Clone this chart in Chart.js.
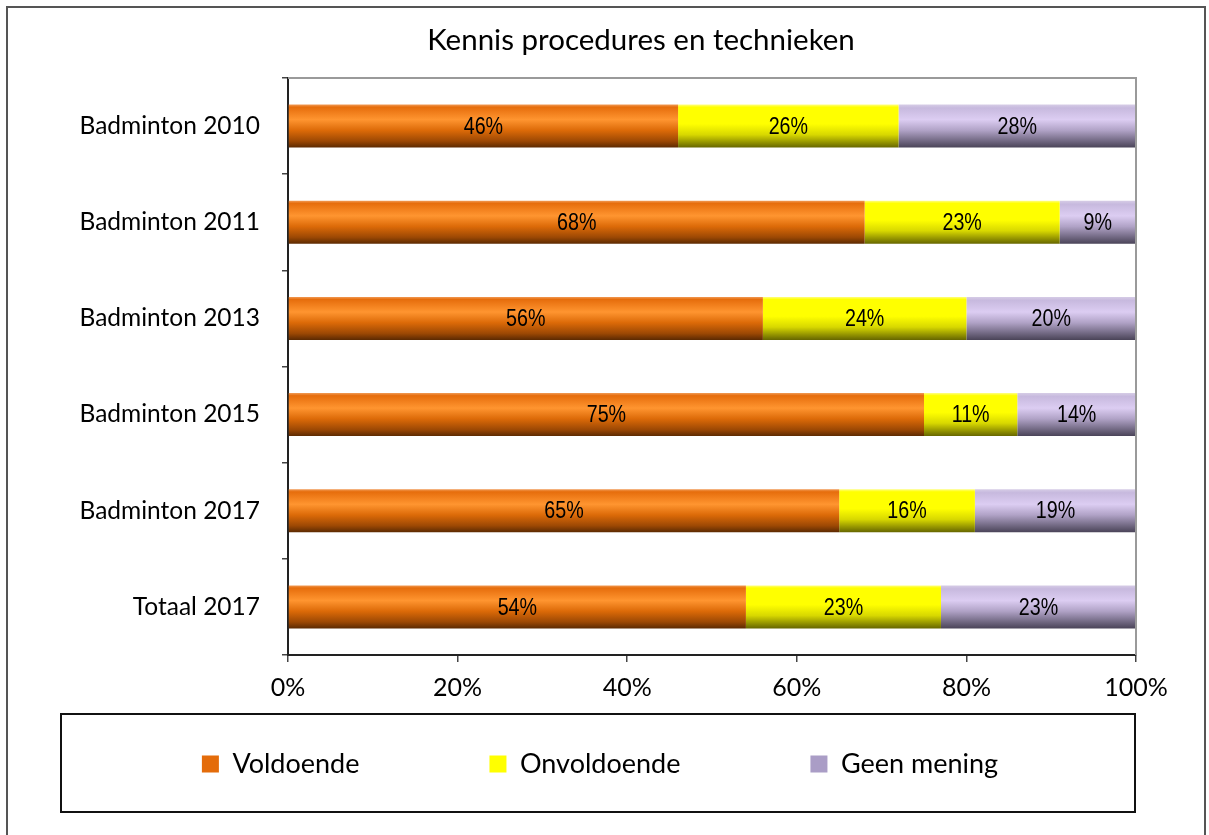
<!DOCTYPE html>
<html>
<head>
<meta charset="utf-8">
<script src="https://cdn.jsdelivr.net/npm/chart.js@4.4.1/dist/chart.umd.min.js"></script>
<style>
  html, body { margin: 0; padding: 0; background: #fff; }
</style>
</head>
<body>
<canvas id="c" width="1209" height="835"></canvas>
<script>
// Kennis procedures en technieken - 100% gestapelde staven

const categories  = ['Badminton 2010', 'Badminton 2011', 'Badminton 2013', 'Badminton 2015', 'Badminton 2017', 'Totaal 2017'];
const voldoende   = [46, 68, 56, 75, 65, 54];
const onvoldoende = [26, 23, 24, 11, 16, 23];
const geenMening  = [28, 9, 20, 14, 19, 23];
const xTicks      = [0, 20, 40, 60, 80, 100];
const titleText   = 'Kennis procedures en technieken';

const BAR_PCT = 0.447;
const LEG_PAD = 130;
const LEG_FONT = 27;

// verloop per staaf (boven -> onder)
function barFill(stops, flat) {
  return (ctx) => {
    const chart = ctx.chart;
    const y = chart.scales.y;
    if (ctx.type !== 'data' || !y || !chart.chartArea) return flat;
    const mid = y.getPixelForValue(ctx.dataIndex);
    const half = (chart.chartArea.height / categories.length) * BAR_PCT / 2;
    const g = chart.ctx.createLinearGradient(0, mid - half, 0, mid + half);
    stops.forEach(([o, c]) => g.addColorStop(o, c));
    return g;
  };
}

// percentages midden in elk stuk, smal lettertype nagebootst met scale
const barLabels = {
  id: 'barLabels',
  afterDatasetsDraw(chart) {
    const c = chart.ctx;
    c.save();
    c.font = '24px "Liberation Sans Narrow", "Liberation Sans", Arial, sans-serif';
    c.fillStyle = '#000';
    c.textAlign = 'center';
    c.textBaseline = 'middle';
    chart.data.datasets.forEach((ds, di) => {
      chart.getDatasetMeta(di).data.forEach((bar, i) => {
        const { x, y, base } = bar.getProps(['x', 'y', 'base'], true);
        c.save();
        c.translate((x + base) / 2, y + 1);
        c.scale(0.82, 1);
        c.fillText(ds.data[i] + '%', 0, 0);
        c.restore();
      });
    });
    c.restore();
  }
};

const frame = {
  id: 'frame',
  afterLayout(chart) {
    // legenda-items midden in het kader zetten
    const lg = chart.legend;
    lg.top = 764 - LEG_FONT / 2 - LEG_PAD;
    lg.bottom = chart.height;
    lg.height = lg.bottom - lg.top;
    lg.left += 32;
    lg.right += 32;
  },
  beforeDraw(chart) {
    const c = chart.ctx;
    c.save();
    c.fillStyle = '#fff';
    c.fillRect(0, 0, chart.width, chart.height);
    c.strokeStyle = '#555';
    c.lineWidth = 2;
    c.strokeRect(7, 7, 1198, 860);
    c.restore();
  },
  afterDatasetsDraw(chart) {
    const { left, top, right, bottom } = chart.chartArea;
    const c = chart.ctx;
    c.save();
    c.strokeStyle = '#9a9a9a';
    c.lineWidth = 2;
    c.beginPath();
    c.moveTo(left, top);
    c.lineTo(right, top);
    c.lineTo(right, bottom);
    c.stroke();
    c.restore();
  },
  afterDraw(chart) {
    const c = chart.ctx;
    c.save();
    c.strokeStyle = '#111';
    c.lineWidth = 2;
    c.strokeRect(61, 714, 1074, 98);
    c.font = '29.5px Lato, sans-serif';
    c.fillStyle = '#000';
    c.textAlign = 'center';
    c.textBaseline = 'middle';
    c.fillText(titleText, 641, 40);
    c.restore();
  }
};

new Chart(document.getElementById('c').getContext('2d'), {
  type: 'bar',
  data: {
    labels: categories,
    datasets: [
      {
        label: 'Voldoende',
        data: voldoende,
        legendColor: '#e46c0a',
        backgroundColor: barFill([[0, '#f19a55'], [0.06, '#e66d0c'], [0.35, '#ff9530'], [0.6, '#dc6a08'], [0.85, '#9c4804'], [1, '#5c2a02']], '#e46c0a'),
      },
      {
        label: 'Onvoldoende',
        data: onvoldoende,
        legendColor: '#ffff00',
        backgroundColor: barFill([[0, '#ffff80'], [0.06, '#ffff00'], [0.45, '#ffff00'], [0.7, '#d8d800'], [1, '#666600']], '#ffff00'),
      },
      {
        label: 'Geen mening',
        data: geenMening,
        legendColor: '#aa9dc6',
        backgroundColor: barFill([[0, '#d6cce6'], [0.08, '#c7b9de'], [0.35, '#dccdf2'], [0.6, '#b0a2c6'], [1, '#4a4458']], '#aa9dc6'),
      }
    ]
  },
  options: {
    indexAxis: 'y',
    responsive: false,
    animation: false,
    devicePixelRatio: 1,
    layout: { padding: { left: 0, right: 73, top: 78, bottom: 0 } },
    datasets: { bar: { barPercentage: BAR_PCT, categoryPercentage: 1, borderWidth: 0 } },
    scales: {
      x: {
        stacked: true,
        min: 0,
        max: 100,
        afterFit(scale) { scale.height = 120; },
        afterBuildTicks(scale) { scale.ticks = xTicks.map(v => ({ value: v })); },
        border: { color: '#222', width: 2 },
        grid: { drawOnChartArea: false, drawTicks: true, tickLength: 7, color: '#444', lineWidth: 1.5 },
        ticks: { padding: 11, color: '#000', font: { family: 'Lato', size: 25 }, callback: v => v + '%' }
      },
      y: {
        stacked: true,
        afterFit(scale) { scale.width = 288; },
        border: { color: '#222', width: 2 },
        grid: { drawOnChartArea: false, drawTicks: true, tickLength: 6, color: '#444', lineWidth: 1.5 },
        ticks: { padding: 22, color: '#000', font: { family: 'Lato', size: 24.5 } }
      }
    },
    plugins: {
      title: { display: false },
      tooltip: { enabled: false },
      legend: {
        position: 'bottom',
        maxHeight: 60,
        labels: {
          padding: LEG_PAD,
          boxWidth: 17,
          boxHeight: 17,
          color: '#000',
          font: { family: 'Lato', size: LEG_FONT },
          generateLabels: (chart) => chart.data.datasets.map((ds, i) => ({
            text: ds.label,
            fillStyle: ds.legendColor,
            strokeStyle: ds.legendColor,
            lineWidth: 0,
            hidden: false,
            datasetIndex: i
          }))
        }
      }
    }
  },
  plugins: [frame, barLabels]
});
</script>
</body>
</html>
